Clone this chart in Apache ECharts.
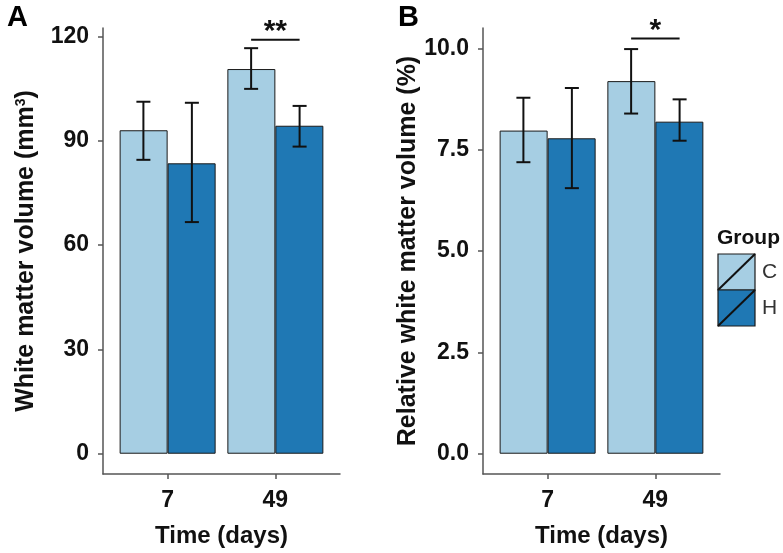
<!DOCTYPE html>
<html>
<head>
<meta charset="utf-8">
<script src="https://cdn.jsdelivr.net/npm/echarts@6/dist/echarts.min.js"></script>
<style>
html,body{margin:0;padding:0;background:#fff;}
#chart{width:783px;height:553px;}
</style>
</head>
<body>
<div id="chart"></div>
<script>
// ---- data ----
const categories = ['7', '49'];
const groups = ['C', 'H'];
// Panel A: White matter volume (mm^3)
const volC = [93.0, 110.6];
const volH = [83.5, 94.3];
const volCLow = [84.5, 104.9];
const volCHigh = [101.2, 116.6];
const volHLow = [66.6, 88.3];
const volHHigh = [100.9, 100.0];
// Panel B: Relative white matter volume (%)
const relC = [7.97, 9.19];
const relH = [7.78, 8.19];
const relCLow = [7.19, 8.39];
const relCHigh = [8.78, 9.98];
const relHLow = [6.55, 7.72];
const relHHigh = [9.02, 8.74];
const ticksA = [0, 30, 60, 90, 120];
const ticksB = [0, 2.5, 5.0, 7.5, 10.0];
const sigA = {cat: 2, y: 119.0, label: '**'};
const sigB = {cat: 2, y: 10.24, label: '*'};

const colC = '#A6CEE3';
const colH = '#1F78B4';
const dodge = 0.225;
const FONT = '"Liberation Sans", Arial, sans-serif';
const axisCol = '#555555';

function xAxisFor(gi) {
  return {
    type: 'value', gridIndex: gi, min: 0.4, max: 2.6,
    splitLine: {show: false},
    axisLine: {show: true, onZero: false, lineStyle: {color: axisCol, width: 1.5}},
    axisTick: {show: true, length: 5, lineStyle: {color: axisCol, width: 1.5}, customValues: [1, 2]},
    axisLabel: {customValues: [1, 2], formatter: v => categories[Math.round(v) - 1],
      color: '#111', fontSize: 23, fontWeight: 'bold', fontFamily: FONT, margin: 15},
    name: 'Time (days)', nameLocation: 'middle', nameGap: 50,
    nameTextStyle: {color: '#111', fontSize: 24, fontWeight: 'bold', fontFamily: FONT}
  };
}
function yAxisFor(gi, min, max, ticks, name, fmt, gap) {
  return {
    type: 'value', gridIndex: gi, min: min, max: max,
    splitLine: {show: false},
    axisLine: {show: true, onZero: false, lineStyle: {color: axisCol, width: 1.5}},
    axisTick: {show: true, length: 5, lineStyle: {color: axisCol, width: 1.5}, customValues: ticks},
    axisLabel: {customValues: ticks, formatter: fmt, color: '#111', fontSize: 23,
      fontWeight: 'bold', fontFamily: FONT, margin: 14},
    name: name, nameLocation: 'middle', nameRotate: 90, nameGap: gap,
    nameTextStyle: {color: '#111', fontSize: 25, fontWeight: 'bold', fontFamily: FONT,
      rich: {sup: {fontSize: 14, fontWeight: 'bold', verticalAlign: 'top', padding: [0, 0, 10, 0], fontFamily: FONT, color: '#111'}}}
  };
}
function barSeries(gi, vals, color, name) {
  return {
    type: 'bar', name: name, xAxisIndex: gi, yAxisIndex: gi, z: 2,
    data: vals.map((v, i) => [i + 1, v]),
    barWidth: 48, barGap: '0%',
    itemStyle: {color: color, borderColor: '#1a1a1a', borderWidth: 1},
    emphasis: {disabled: true}, animation: false
  };
}
function errSeries(gi, low, high, off) {
  return {
    type: 'custom', xAxisIndex: gi, yAxisIndex: gi, animation: false, z: 10,
    data: low.map((l, i) => [i + 1 + off, l, high[i]]),
    renderItem: (params, api) => {
      const x = api.value(0);
      const p1 = api.coord([x, api.value(1)]);
      const p2 = api.coord([x, api.value(2)]);
      const hw = 7;
      const st = {stroke: '#111', lineWidth: 2};
      return {type: 'group', children: [
        {type: 'line', shape: {x1: p1[0], y1: p1[1], x2: p2[0], y2: p2[1]}, style: st},
        {type: 'line', shape: {x1: p1[0] - hw, y1: p1[1], x2: p1[0] + hw, y2: p1[1]}, style: st},
        {type: 'line', shape: {x1: p2[0] - hw, y1: p2[1], x2: p2[0] + hw, y2: p2[1]}, style: st}
      ]};
    }
  };
}
function sigSeries(gi, sig) {
  return {
    type: 'custom', xAxisIndex: gi, yAxisIndex: gi, animation: false, z: 10,
    data: [[sig.cat - dodge, sig.cat + dodge, sig.y]],
    renderItem: (params, api) => {
      const a = api.coord([api.value(0), api.value(2)]);
      const b = api.coord([api.value(1), api.value(2)]);
      return {type: 'group', children: [
        {type: 'line', shape: {x1: a[0], y1: a[1], x2: b[0], y2: b[1]}, style: {stroke: '#111', lineWidth: 2}},
        {type: 'text', x: (a[0] + b[0]) / 2, y: a[1] + 7, style: {text: sig.label, fill: '#111',
          font: 'bold 30px ' + FONT, align: 'center', verticalAlign: 'bottom'}}
      ]};
    }
  };
}

const chart = echarts.init(document.getElementById('chart'), null, {renderer: 'canvas'});
const legX = 718, legY = 254, kw = 37, kh = 36;
function key(y, color) {
  return [
    {type: 'rect', shape: {x: legX, y: y, width: kw, height: kh}, style: {fill: color, stroke: '#1a1a1a', lineWidth: 1.2}},
    {type: 'line', shape: {x1: legX, y1: y + kh, x2: legX + kw, y2: y}, style: {stroke: '#111', lineWidth: 2}}
  ];
}
chart.setOption({
  animation: false,
  backgroundColor: '#ffffff',
  grid: [
    {left: 103, top: 28, width: 237, height: 449},
    {left: 483, top: 28, width: 237, height: 449}
  ],
  xAxis: [xAxisFor(0), xAxisFor(1)],
  yAxis: [
    yAxisFor(0, -5.83, 122.4, ticksA, 'White matter volume (mm{sup|3})', v => String(v), 64),
    yAxisFor(1, -0.5, 10.5, ticksB, 'Relative white matter volume (%)', v => v.toFixed(1), 62)
  ],
  series: [
    barSeries(0, volC, colC, groups[0]), barSeries(0, volH, colH, groups[1]),
    errSeries(0, volCLow, volCHigh, -dodge), errSeries(0, volHLow, volHHigh, dodge),
    sigSeries(0, sigA),
    barSeries(1, relC, colC, groups[0]), barSeries(1, relH, colH, groups[1]),
    errSeries(1, relCLow, relCHigh, -dodge), errSeries(1, relHLow, relHHigh, dodge),
    sigSeries(1, sigB)
  ],
  graphic: [
    {type: 'text', left: 7, top: 3, style: {text: 'A', font: 'bold 29px ' + FONT, fill: '#000'}},
    {type: 'text', left: 398, top: 3, style: {text: 'B', font: 'bold 29px ' + FONT, fill: '#000'}},
    {type: 'text', left: 717, top: 228, style: {text: 'Group', font: 'bold 21px ' + FONT, fill: '#111'}},
    ...key(legY, colC), ...key(legY + kh, colH),
    {type: 'text', x: legX + kw + 7, y: legY + kh / 2, style: {text: groups[0], font: '21px ' + FONT, fill: '#333', verticalAlign: 'middle'}},
    {type: 'text', x: legX + kw + 7, y: legY + kh * 1.5, style: {text: groups[1], font: '21px ' + FONT, fill: '#333', verticalAlign: 'middle'}}
  ]
});
</script>
</body>
</html>
